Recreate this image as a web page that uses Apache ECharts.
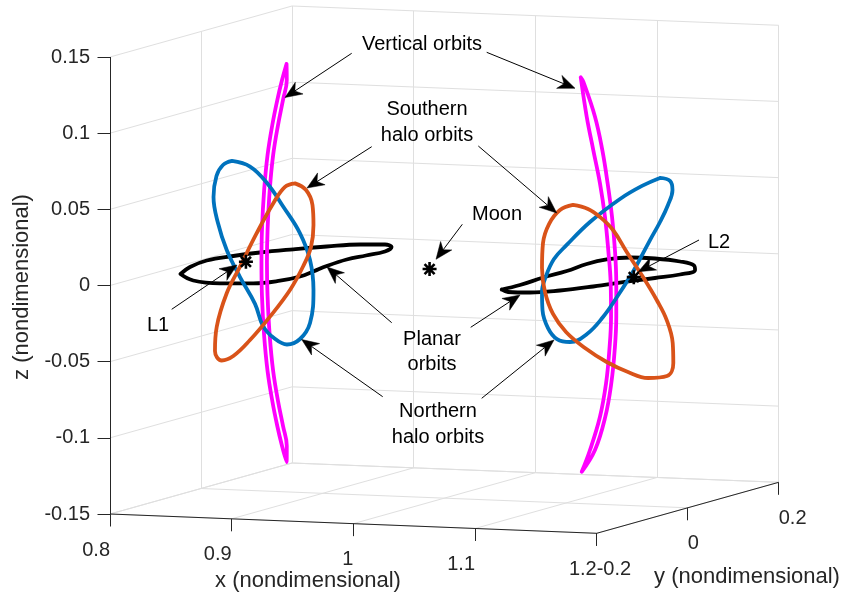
<!DOCTYPE html>
<html>
<head>
<meta charset="utf-8">
<title>Libration point orbits</title>
<script src="https://cdn.jsdelivr.net/npm/echarts@6/dist/echarts.min.js"></script>
<style>
  html, body { margin: 0; padding: 0; background: #ffffff; }
  #chart { width: 849px; height: 601px; }
</style>
</head>
<body>
<div id="chart"></div>
<script>
// ---------- axis ranges and ticks ----------
const xRange = [0.8, 1.2];
const yRange = [-0.2, 0.2];
const zRange = [-0.15, 0.15];
const xTicks = [0.8, 0.9, 1, 1.1, 1.2];
const yTicks = [-0.2, 0, 0.2];
const zTicks = [-0.15, -0.1, -0.05, 0, 0.05, 0.1, 0.15];
const xTickLabels = ['0.8', '0.9', '1', '1.1', '1.2'];
const yTickLabels = ['-0.2', '0', '0.2'];
const zTickLabels = ['-0.15', '-0.1', '-0.05', '0', '0.05', '0.1', '0.15'];

// ---------- special points (x, y, z) ----------
const moonPos = [0.98785, 0, 0];
const l1Pos = [0.83692, 0, 0];
const l2Pos = [1.15568, 0, 0];

// ---------- planar (Lyapunov) orbits, in the z = 0 plane ----------
const l1PlanarX = [0.8212, 0.8101, 0.8054, 0.8130, 0.8232, 0.8390, 0.8558, 0.8747, 0.8927, 0.9038, 0.9106, 0.9072, 0.9036, 0.9059, 0.9104, 0.9137, 0.9101, 0.8975, 0.8735, 0.8471];
const l1PlanarY = [-0.1018, -0.0511, -0.0019, 0.0363, 0.0676, 0.0987, 0.1270, 0.1498, 0.1566, 0.1412, 0.1085, 0.0759, 0.0431, -0.0070, -0.0484, -0.0864, -0.1207, -0.1458, -0.1549, -0.1430];
const l2PlanarX = [1.0923, 1.0939, 1.0914, 1.0916, 1.0880, 1.0908, 1.1024, 1.1230, 1.1487, 1.1691, 1.1814, 1.1821, 1.1731, 1.1622, 1.1505, 1.1368, 1.1204, 1.1033];
const l2PlanarY = [-0.1208, -0.0849, -0.0270, 0.0241, 0.0776, 0.1140, 0.1341, 0.1340, 0.1202, 0.0965, 0.0659, 0.0309, 0.0000, -0.0331, -0.0752, -0.1117, -0.1337, -0.1362];
const planarZ = 0;

// ---------- vertical orbits, in the y = 0 plane ----------
const l1VerticalX = [0.8703, 0.8666, 0.8627, 0.8586, 0.8547, 0.8519, 0.8501, 0.8497, 0.8501, 0.8519, 0.8547, 0.8586, 0.8627, 0.8666, 0.8703, 0.8705, 0.8674, 0.8633, 0.8593, 0.8565, 0.8547, 0.8542, 0.8547, 0.8565, 0.8593, 0.8633, 0.8674, 0.8705];
const l1VerticalZ = [0.1309, 0.1203, 0.1070, 0.0905, 0.0707, 0.0476, 0.0213, -0.0004, -0.0220, -0.0482, -0.0711, -0.0907, -0.1070, -0.1200, -0.1304, -0.1199, -0.1068, -0.0906, -0.0710, -0.0481, -0.0219, -0.0003, 0.0214, 0.0478, 0.0708, 0.0906, 0.1072, 0.1204];
const l2VerticalX = [1.1121, 1.1170, 1.1224, 1.1279, 1.1320, 1.1347, 1.1367, 1.1370, 1.1356, 1.1329, 1.1279, 1.1197, 1.1129, 1.1238, 1.1323, 1.1372, 1.1400, 1.1413, 1.1413, 1.1402, 1.1378, 1.1342, 1.1298, 1.1238, 1.1142];
const l2VerticalZ = [0.1298, 0.1041, 0.0824, 0.0607, 0.0389, 0.0172, -0.0046, -0.0265, -0.0485, -0.0704, -0.0925, -0.1146, -0.1291, -0.1145, -0.0923, -0.0703, -0.0483, -0.0264, -0.0045, 0.0173, 0.0391, 0.0609, 0.0827, 0.1043, 0.1270];
const verticalY = 0;

// ---------- halo orbits, each drawn at a fixed x ----------
const l1HaloX = 0.85;
const l2HaloX = 1.135;
const l1NorthY = [-0.0656, -0.0260, 0.0113, 0.0472, 0.0839, 0.1059, 0.1135, 0.1059, 0.0839, 0.0553, 0.0267, 0.0026, -0.0150, -0.0480, -0.0772, -0.0964, -0.1062, -0.0997, -0.0854];
const l1NorthZ = [0.0721, 0.0651, 0.0512, 0.0326, 0.0121, -0.0073, -0.0276, -0.0486, -0.0573, -0.0585, -0.0519, -0.0420, -0.0260, -0.0056, 0.0146, 0.0339, 0.0518, 0.0651, 0.0711];
const l1SouthY = [0.0729, 0.0971, 0.1113, 0.1135, 0.1080, 0.0911, 0.0619, 0.0179, -0.0260, -0.0627, -0.0882, -0.1030, -0.0992, -0.0772, -0.0480, -0.0113, 0.0252, 0.0509];
const l1SouthZ = [0.0458, 0.0394, 0.0284, 0.0151, 0.0011, -0.0100, -0.0233, -0.0371, -0.0488, -0.0562, -0.0570, -0.0495, -0.0341, -0.0138, 0.0012, 0.0201, 0.0367, 0.0453];
const l2NorthY = [0.1130, 0.1349, 0.1404, 0.1305, 0.1130, 0.0910, 0.0558, 0.0184, -0.0123, -0.0475, -0.0849, -0.1134, -0.1332, -0.1453, -0.1464, -0.1376, -0.1200, -0.0921, -0.0409, 0.0250, 0.0734];
const l2NorthZ = [0.0550, 0.0512, 0.0448, 0.0358, 0.0261, 0.0161, -0.0006, -0.0152, -0.0258, -0.0340, -0.0361, -0.0318, -0.0229, -0.0101, 0.0019, 0.0116, 0.0213, 0.0282, 0.0390, 0.0486, 0.0531];
const l2SouthY = [-0.0783, -0.0453, -0.0189, 0.0097, 0.0398, 0.0756, 0.1057, 0.1277, 0.1409, 0.1422, 0.1283, 0.0866, 0.0426, -0.0042, -0.0519, -0.0936, -0.1222, -0.1398, -0.1464, -0.1442, -0.1310, -0.1068];
const l2SouthZ = [0.0533, 0.0479, 0.0404, 0.0295, 0.0125, -0.0069, -0.0245, -0.0395, -0.0557, -0.0689, -0.0763, -0.0741, -0.0665, -0.0560, -0.0428, -0.0288, -0.0146, 0.0013, 0.0176, 0.0338, 0.0452, 0.0524];

// ---------- view: screen anchors of the box corners (orthographic) ----------
const W = 849, H = 601;
const P0 = [110, 514];      // (xmin, ymin, zmin)
const PX = [596.7, 533.3];  // (xmax, ymin, zmin)
const PY = [292, 463];      // (xmin, ymax, zmin)
const PZ = [110, 57];       // (xmin, ymin, zmax)

function project(x, y, z) {
  const fx = (x - xRange[0]) / (xRange[1] - xRange[0]);
  const fy = (y - yRange[0]) / (yRange[1] - yRange[0]);
  const fz = (z - zRange[0]) / (zRange[1] - zRange[0]);
  return [
    P0[0] + (PX[0] - P0[0]) * fx + (PY[0] - P0[0]) * fy + (PZ[0] - P0[0]) * fz,
    P0[1] + (PX[1] - P0[1]) * fx + (PY[1] - P0[1]) * fy + (PZ[1] - P0[1]) * fz
  ];
}

function closedLoop(xs, ys, zs) {
  const n = Math.max(Array.isArray(xs) ? xs.length : 0, Array.isArray(ys) ? ys.length : 0, Array.isArray(zs) ? zs.length : 0);
  const at = (a, i) => (Array.isArray(a) ? a[i] : a);
  const pts = [];
  for (let i = 0; i < n; i++) pts.push(project(at(xs, i), at(ys, i), at(zs, i)));
  pts.push(pts[0]);
  return pts;
}

// ---------- grid on the three back planes ----------
const gridSegs = [];
const seg = (a, b) => gridSegs.push({ coords: [project(a[0], a[1], a[2]), project(b[0], b[1], b[2])] });
xTicks.forEach(x => {
  seg([x, yRange[0], zRange[0]], [x, yRange[1], zRange[0]]);
  seg([x, yRange[1], zRange[0]], [x, yRange[1], zRange[1]]);
});
yTicks.forEach(y => {
  seg([xRange[0], y, zRange[0]], [xRange[1], y, zRange[0]]);
  seg([xRange[0], y, zRange[0]], [xRange[0], y, zRange[1]]);
});
zTicks.forEach(z => {
  seg([xRange[0], yRange[1], z], [xRange[1], yRange[1], z]);
  seg([xRange[0], yRange[0], z], [xRange[0], yRange[1], z]);
});

// ---------- axis lines and tick marks ----------
const TICK = 12.5;
const axisSegs = [];
const addAxis = (a, b) => axisSegs.push({ coords: [project(a[0], a[1], a[2]), project(b[0], b[1], b[2])] });
addAxis([xRange[0], yRange[0], zRange[0]], [xRange[1], yRange[0], zRange[0]]);
addAxis([xRange[1], yRange[0], zRange[0]], [xRange[1], yRange[1], zRange[0]]);
addAxis([xRange[0], yRange[0], zRange[0]], [xRange[0], yRange[0], zRange[1]]);
const labelItems = [];
xTicks.forEach((x, i) => {
  const p = project(x, yRange[0], zRange[0]);
  axisSegs.push({ coords: [p, [p[0], p[1] + TICK]] });
  labelItems.push({ pos: p, text: xTickLabels[i], align: 'right', dx: 0, dy: 36 });
});
yTicks.forEach((y, i) => {
  const p = project(xRange[1], y, zRange[0]);
  axisSegs.push({ coords: [p, [p[0], p[1] + TICK]] });
  labelItems.push({ pos: p, text: yTickLabels[i], align: 'left', dx: 0, dy: 36 });
});
zTicks.forEach((z, i) => {
  const p = project(xRange[0], yRange[0], z);
  axisSegs.push({ coords: [p, [p[0] - TICK, p[1]]] });
  labelItems.push({ pos: p, text: zTickLabels[i], align: 'right', dx: -20, dy: 0 });
});

// ---------- orbit series ----------
const COL = { blue: '#0072BD', orange: '#D95319', magenta: '#FF00FF', black: '#000000' };
function orbit(name, pts, color, z) {
  return {
    type: 'line', name, data: pts, showSymbol: false, smooth: 0.4,
    lineStyle: { color, width: 3.8, cap: 'round', join: 'round' },
    z, silent: true, animation: false
  };
}

const FONT = '"Liberation Sans", Arial, Helvetica, sans-serif';
const starPath = 'path://M0,-6L0,6M-6,0L6,0M-4.3,-4.3L4.3,4.3M-4.3,4.3L4.3,-4.3';

// ---------- text annotations with arrows (figure pixels) ----------
const notes = [
  { text: 'Vertical orbits', at: [422, 44] },
  { text: 'Southern\nhalo orbits', at: [427, 122.5] },
  { text: 'Moon', at: [497, 214] },
  { text: 'L2', at: [719, 242] },
  { text: 'L1', at: [158, 325] },
  { text: 'Planar\norbits', at: [432, 352] },
  { text: 'Northern\nhalo orbits', at: [438, 424.5] }
];
const arrows = [
  [[351.7, 53.3], [285, 97.5]],
  [[486.7, 52.3], [575, 88.3]],
  [[371.7, 146.7], [307, 188]],
  [[478.3, 146], [556.7, 213]],
  [[462.3, 224.3], [436, 259.3]],
  [[699, 240], [638.3, 271.7]],
  [[171.7, 309.3], [237, 265]],
  [[391.7, 322.7], [327, 267]],
  [[470.7, 327.3], [520, 295]],
  [[382.7, 396.7], [301.7, 339.5]],
  [[481.7, 398.3], [554, 340]]
];

const graphics = [];
notes.forEach(n => {
  graphics.push({
    type: 'text', x: n.at[0], y: n.at[1], z: 100,
    style: {
      text: n.text, font: '20px ' + FONT, fill: '#000000',
      textAlign: 'center', textVerticalAlign: 'middle', align: 'center', verticalAlign: 'middle',
      lineHeight: 25.5
    }
  });
});
const HEAD_L = 17, HEAD_W = 7, NOTCH = 0.7;
arrows.forEach(([t, p]) => {
  const dx = p[0] - t[0], dy = p[1] - t[1];
  const len = Math.hypot(dx, dy);
  const ux = dx / len, uy = dy / len, nx = -uy, ny = ux;
  const bx = p[0] - ux * HEAD_L, by = p[1] - uy * HEAD_L;
  const kx = p[0] - ux * HEAD_L * NOTCH, ky = p[1] - uy * HEAD_L * NOTCH;
  graphics.push({
    type: 'line', z: 100,
    shape: { x1: t[0], y1: t[1], x2: kx, y2: ky },
    style: { stroke: '#000000', lineWidth: 1 }
  });
  graphics.push({
    type: 'polygon', z: 100,
    shape: { points: [p, [bx + nx * HEAD_W, by + ny * HEAD_W], [kx, ky], [bx - nx * HEAD_W, by - ny * HEAD_W]] },
    style: { fill: '#000000', stroke: '#000000', lineWidth: 0.5 }
  });
});
// axis titles
graphics.push({ type: 'text', x: 308, y: 581, z: 100,
  style: { text: 'x (nondimensional)', font: '22px ' + FONT, fill: '#262626', textAlign: 'center', textVerticalAlign: 'middle', align: 'center', verticalAlign: 'middle' } });
graphics.push({ type: 'text', x: 747, y: 577, z: 100,
  style: { text: 'y (nondimensional)', font: '22px ' + FONT, fill: '#262626', textAlign: 'center', textVerticalAlign: 'middle', align: 'center', verticalAlign: 'middle' } });
graphics.push({ type: 'text', x: 22, y: 287, z: 100, rotation: Math.PI / 2,
  style: { text: 'z (nondimensional)', font: '22px ' + FONT, fill: '#262626', textAlign: 'center', textVerticalAlign: 'middle', align: 'center', verticalAlign: 'middle' } });

const chart = echarts.init(document.getElementById('chart'), null, { renderer: 'canvas', width: W, height: H });
chart.setOption({
  animation: false,
  backgroundColor: '#ffffff',
  grid: { left: 0, right: 0, top: 0, bottom: 0 },
  xAxis: { type: 'value', min: 0, max: W, show: false },
  yAxis: { type: 'value', min: 0, max: H, inverse: true, show: false },
  graphic: { elements: graphics },
  series: [
    { type: 'lines', coordinateSystem: 'cartesian2d', data: gridSegs, silent: true, z: 1,
      lineStyle: { color: '#dfdfdf', width: 1, opacity: 1 } },
    { type: 'lines', coordinateSystem: 'cartesian2d', data: axisSegs, silent: true, z: 2,
      lineStyle: { color: '#262626', width: 1, opacity: 1 } },
    orbit('L1 planar', closedLoop(l1PlanarX, l1PlanarY, planarZ), COL.black, 3),
    orbit('L2 planar', closedLoop(l2PlanarX, l2PlanarY, planarZ), COL.black, 3),
    orbit('L1 vertical', closedLoop(l1VerticalX, verticalY, l1VerticalZ), COL.magenta, 4),
    orbit('L2 vertical', closedLoop(l2VerticalX, verticalY, l2VerticalZ), COL.magenta, 4),
    orbit('L1 northern halo', closedLoop(l1HaloX, l1NorthY, l1NorthZ), COL.blue, 5),
    orbit('L2 northern halo', closedLoop(l2HaloX, l2NorthY, l2NorthZ), COL.blue, 5),
    orbit('L1 southern halo', closedLoop(l1HaloX, l1SouthY, l1SouthZ), COL.orange, 6),
    orbit('L2 southern halo', closedLoop(l2HaloX, l2SouthY, l2SouthZ), COL.orange, 6),
    { type: 'scatter', silent: true, z: 8, symbol: starPath, symbolSize: 14,
      data: [moonPos, l1Pos, l2Pos].map(p => project(p[0], p[1], p[2])),
      itemStyle: { color: 'rgba(0,0,0,0)', borderColor: '#000000', borderWidth: 2.6, opacity: 1 } },
    { type: 'custom', coordinateSystem: 'cartesian2d', silent: true, z: 9,
      data: labelItems.map(l => l.pos),
      renderItem: (params, api) => {
        const it = labelItems[params.dataIndex];
        const c = api.coord([api.value(0), api.value(1)]);
        return {
          type: 'text', x: c[0] + it.dx, y: c[1] + it.dy,
          style: { text: it.text, font: '20px ' + FONT, fill: '#262626',
            textAlign: it.align, textVerticalAlign: 'middle', align: it.align, verticalAlign: 'middle' }
        };
      } }
  ]
});
</script>
</body>
</html>
